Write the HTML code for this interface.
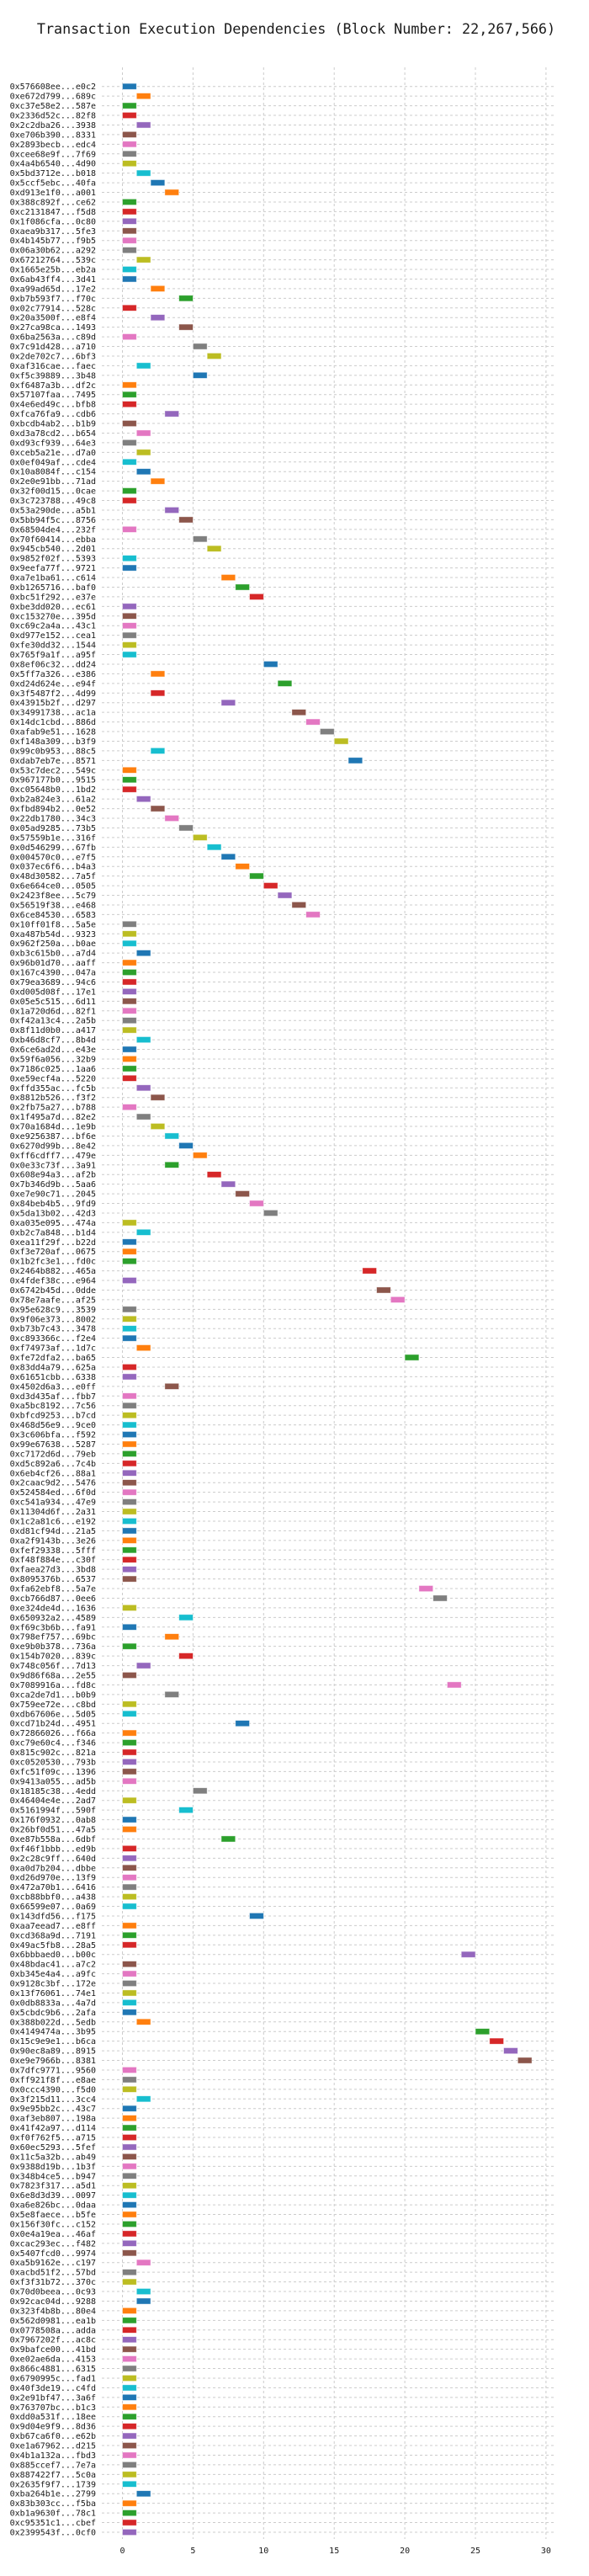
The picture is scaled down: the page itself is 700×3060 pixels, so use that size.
<!DOCTYPE html>
<html><head><meta charset="utf-8">
<style>
html,body{margin:0;padding:0;background:#fff;}
svg{display:block;}
text{font-family:"DejaVu Sans Mono","Liberation Mono",monospace;fill:#1a1a1a;}
</style></head>
<body>
<svg id="chart" width="700" height="3060" viewBox="0 0 700 3060" xmlns="http://www.w3.org/2000/svg">
<text x="352" y="40" text-anchor="middle" font-size="16.8">Transaction Execution Dependencies (Block Number: 22,267,566)</text>
<g id="grid"></g>
<g id="bars"></g>
<g id="ylabels"></g>
<g id="xticks"></g>
</svg>
<script>
const labels = ["0x576608ee...e0c2","0xe672d799...689c","0xc37e58e2...587e","0x2336d52c...82f8","0x2c2dba26...3938","0xe706b390...8331","0x2893becb...edc4","0xcee68e9f...7f69","0x4a4b6540...4d90","0x5bd3712e...b018",
"0x5ccf5ebc...40fa","0xd913e1f0...a001","0x388c892f...ce62","0xc2131847...f5d8","0x1f086cfa...0c80","0xaea9b317...5fe3","0x4b145b77...f9b5","0x06a30b62...a292","0x67212764...539c","0x1665e25b...eb2a",
"0x6ab43ff4...3d41","0xa99ad65d...17e2","0xb7b593f7...f70c","0x02c77914...528c","0x20a3500f...e8f4","0x27ca98ca...1493","0x6ba2563a...c89d","0x7c91d428...a710","0x2de702c7...6bf3","0xaf316cae...faec",
"0xf5c39889...3b48","0xf6487a3b...df2c","0x57107faa...7495","0x4e6ed49c...bfb8","0xfca76fa9...cdb6","0xbcdb4ab2...b1b9","0xd3a78cd2...b654","0xd93cf939...64e3","0xceb5a21e...d7a0","0x0ef049af...cde4",
"0x10a8084f...c154","0x2e0e91bb...71ad","0x32f00d15...0cae","0x3c723788...49c8","0x53a290de...a5b1","0x5bb94f5c...8756","0x68504de4...232f","0x70f60414...ebba","0x945cb540...2d01","0x9852f02f...5393",
"0x9eefa77f...9721","0xa7e1ba61...c614","0xb1265716...baf0","0xbc51f292...e37e","0xbe3dd020...ec61","0xc153270e...395d","0xc69c2a4a...43c1","0xd977e152...cea1","0xfe30dd32...1544","0x765f9a1f...a95f",
"0x8ef06c32...dd24","0x5ff7a326...e386","0xd24d624e...e94f","0x3f5487f2...4d99","0x43915b2f...d297","0x34991738...ac1a","0x14dc1cbd...886d","0xafab9e51...1628","0xf148a309...b3f9","0x99c0b953...88c5",
"0xdab7eb7e...8571","0x53c7dec2...549c","0x967177b0...9515","0xc05648b0...1bd2","0xb2a824e3...61a2","0xfbd894b2...0e52","0x22db1780...34c3","0x05ad9285...73b5","0x57559b1e...316f","0x0d546299...67fb",
"0x004570c0...e7f5","0x037ec6f6...b4a3","0x48d30582...7a5f","0x6e664ce0...0505","0x2423f8ee...5c79","0x56519f38...e468","0x6ce84530...6583","0x10ff01f8...5a5e","0xa487b54d...9323","0x962f250a...b0ae",
"0xb3c615b0...a7d4","0x96b01d70...aaff","0x167c4390...047a","0x79ea3689...94c6","0xd005d08f...17e1","0x05e5c515...6d11","0x1a720d6d...82f1","0xf42a13c4...2a5b","0x8f11d0b0...a417","0xb46d8cf7...8b4d",
"0x6ce6ad2d...e43e","0x59f6a056...32b9","0x7186c025...1aa6","0xe59ecf4a...5220","0xffd355ac...fc5b","0x8812b526...f3f2","0x2fb75a27...b788","0x1f495a7d...82e2","0x70a1684d...1e9b","0xe9256387...bf6e",
"0x6270d99b...8e42","0xff6cdff7...479e","0x0e33c73f...3a91","0x608e94a3...af2b","0x7b346d9b...5aa6","0xe7e90c71...2045","0x84beb4b5...9fd9","0x5da13b02...42d3","0xa035e095...474a","0xb2c7a848...b1d4",
"0xea11f29f...b22d","0xf3e720af...0675","0x1b2fc3e1...fd0c","0x2464b882...465a","0x4fdef38c...e964","0x6742b45d...0dde","0x78e7aafe...af25","0x95e628c9...3539","0x9f06e373...8002","0xb73b7c43...3478",
"0xc893366c...f2e4","0xf74973af...1d7c","0xfe72dfa2...ba65","0x83dd4a79...625a","0x61651cbb...6338","0x4502d6a3...e0ff","0xd3d435af...fbb7","0xa5bc8192...7c56","0xbfcd9253...b7cd","0x468d56e9...9ce0",
"0x3c606bfa...f592","0x99e67638...5287","0xc7172d6d...79eb","0xd5c892a6...7c4b","0x6eb4cf26...88a1","0x2caac9d2...5476","0x524584ed...6f0d","0xc541a934...47e9","0x11304d6f...2a31","0x1c2a81c6...e192",
"0xd81cf94d...21a5","0xa2f9143b...3e26","0xfef29338...5fff","0xf48f884e...c30f","0xfaea27d3...3bd8","0x8095376b...6537","0xfa62ebf8...5a7e","0xcb766d87...0ee6","0xe324de4d...1636","0x650932a2...4589",
"0xf69c3b6b...fa91","0x798ef757...69bc","0xe9b0b378...736a","0x154b7020...839c","0x748c056f...7d13","0x9d86f68a...2e55","0x7089916a...fd8c","0xca2de7d1...b0b9","0x759ee72e...c8bd","0xdb67606e...5d05",
"0xcd71b24d...4951","0x72866026...f66a","0xc79e60c4...f346","0x815c902c...821a","0xc0520530...793b","0xfc51f09c...1396","0x9413a055...ad5b","0x18185c38...4edd","0x46404e4e...2ad7","0x5161994f...590f",
"0x176f0932...0ab8","0x26bf0d51...47a5","0xe87b558a...6dbf","0xf46f1bbb...ed9b","0x2c28c9ff...640d","0xa0d7b204...dbbe","0xd26d970e...13f9","0x472a70b1...6416","0xcb88bbf0...a438","0x66599e07...0a69",
"0x143dfd56...f175","0xaa7eead7...e8ff","0xcd368a9d...7191","0x49ac5fb8...28a5","0x6bbbaed0...b00c","0x48bdac41...a7c2","0xb345e4a4...a9fc","0x9128c3bf...172e","0x13f76061...74e1","0x0db8833a...4a7d",
"0x5cbdc9b6...2afa","0x388b022d...5edb","0x4149474a...3b95","0x15c9e9e1...b6ca","0x90ec8a89...8915","0xe9e7966b...8381","0x7dfc9771...9560","0xff921f8f...e8ae","0x0ccc4390...f5d0","0x3f215d11...3cc4",
"0x9e95bb2c...43c7","0xaf3eb807...198a","0x41f42a97...d114","0xf0f762f5...a715","0x60ec5293...5fef","0x11c5a32b...ab49","0x9388d19b...1b3f","0x348b4ce5...b947","0x7823f317...a5d1","0x6e8d3d39...0097",
"0xa6e826bc...0daa","0x5e8faece...b5fe","0x156f30fc...c152","0x0e4a19ea...46af","0xcac293ec...f482","0x5407fcd0...9974","0xa5b9162e...c197","0xacbd51f2...57bd","0xf3f31b72...370c","0x70d0beea...0c93",
"0x92cac04d...9288","0x323f4b8b...80e4","0x562d0981...ea1b","0x0778508a...adda","0x7967202f...ac8c","0x9bafce00...41bd","0xe02ae6da...4153","0x866c4881...6315","0x6790995c...fad1","0x40f3de19...c4fd",
"0x2e91bf47...3a6f","0x763707bc...b1c3","0xdd0a531f...18ee","0x9d04e9f9...8d36","0xb67ca6f0...e62b","0xe1a67962...d215","0x4b1a132a...fbd3","0x885ccef7...7e7a","0x887422f7...5c0a","0x2635f9f7...1739",
"0xba264b1e...2799","0x83b303cc...f5ba","0xb1a9630f...78c1","0xc95351c1...cbef","0x2399543f...0cf0"];
const starts = [0,1,0,0,1,0,0,0,0,1,
2,3,0,0,0,0,0,0,1,0,
0,2,4,0,2,4,0,5,6,1,
5,0,0,0,3,0,1,0,1,0,
1,2,0,0,3,4,0,5,6,0,
0,7,8,9,0,0,0,0,0,0,
10,2,11,2,7,12,13,14,15,2,
16,0,0,0,1,2,3,4,5,6,
7,8,9,10,11,12,13,0,0,0,
1,0,0,0,0,0,0,0,0,1,
0,0,0,0,1,2,0,1,2,3,
4,5,3,6,7,8,9,10,0,1,
0,0,0,17,0,18,19,0,0,0,
0,1,20,0,0,3,0,0,0,0,
0,0,0,0,0,0,0,0,0,0,
0,0,0,0,0,0,21,22,0,4,
0,3,0,4,1,0,23,3,0,0,
8,0,0,0,0,0,0,5,0,4,
0,0,7,0,0,0,0,0,0,0,
9,0,0,0,24,0,0,0,0,0,
0,1,25,26,27,28,0,0,0,1,
0,0,0,0,0,0,0,0,0,0,
0,0,0,0,0,0,1,0,0,1,
1,0,0,0,0,0,0,0,0,0,
0,0,0,0,0,0,0,0,0,0,
1,0,0,0,0];
const durations = labels.map(() => 1);
const xTicks = [0,5,10,15,20,25,30];
const palette = ["#1f77b4","#ff7f0e","#2ca02c","#d62728","#9467bd","#8c564b","#e377c2","#7f7f7f","#bcbd22","#17becf"];

const NS = "http://www.w3.org/2000/svg";
const X0 = 145.5, UNIT = 16.78;
const Y0 = 102.7, STEP = (3008 - 102.7) / 254;
const xScale = v => X0 + v * UNIT;
const yScale = i => Y0 + i * STEP;
const TOP = 80, BOTTOM = 3016, LEFT = 121, RIGHT = 661;

const grid = document.getElementById('grid');
const barsG = document.getElementById('bars');
const ylab = document.getElementById('ylabels');
const xt = document.getElementById('xticks');

function mk(tag, attrs, parent) {
  const e = document.createElementNS(NS, tag);
  for (const k in attrs) e.setAttribute(k, attrs[k]);
  parent.appendChild(e);
  return e;
}

xTicks.forEach(t => {
  const x = xScale(t);
  const l = mk('line', {x1:x, x2:x, y1:TOP, y2:BOTTOM, stroke:'#cccccc', 'stroke-width':1, 'stroke-dasharray':'3,3'}, grid);
  
  
  const tx = mk('text', {x:x, y:3033, 'text-anchor':'middle', 'font-size':'10'}, xt);
  tx.textContent = t;
  
  
});

labels.forEach((lab, i) => {
  const y = yScale(i);
  const gl = mk('line', {x1:LEFT, x2:RIGHT, y1:y, y2:y, stroke:'#cccccc', 'stroke-width':1, 'stroke-dasharray':'3,3'}, grid);
  
  
  const t = mk('text', {x:114, y:y + 3.5, 'text-anchor':'end', 'font-size':'10'}, ylab);
  t.textContent = lab;
  
  
  const x1 = xScale(starts[i]), x2 = xScale(starts[i] + durations[i]);
  const r = mk('rect', {x:x1, y:y - 3.6, width:x2 - x1, height:7.2, fill:palette[i % 10], stroke:'#ffffff', 'stroke-opacity':0.6, 'stroke-width':0.8}, barsG);
  
  
});
</script>
</body></html>
